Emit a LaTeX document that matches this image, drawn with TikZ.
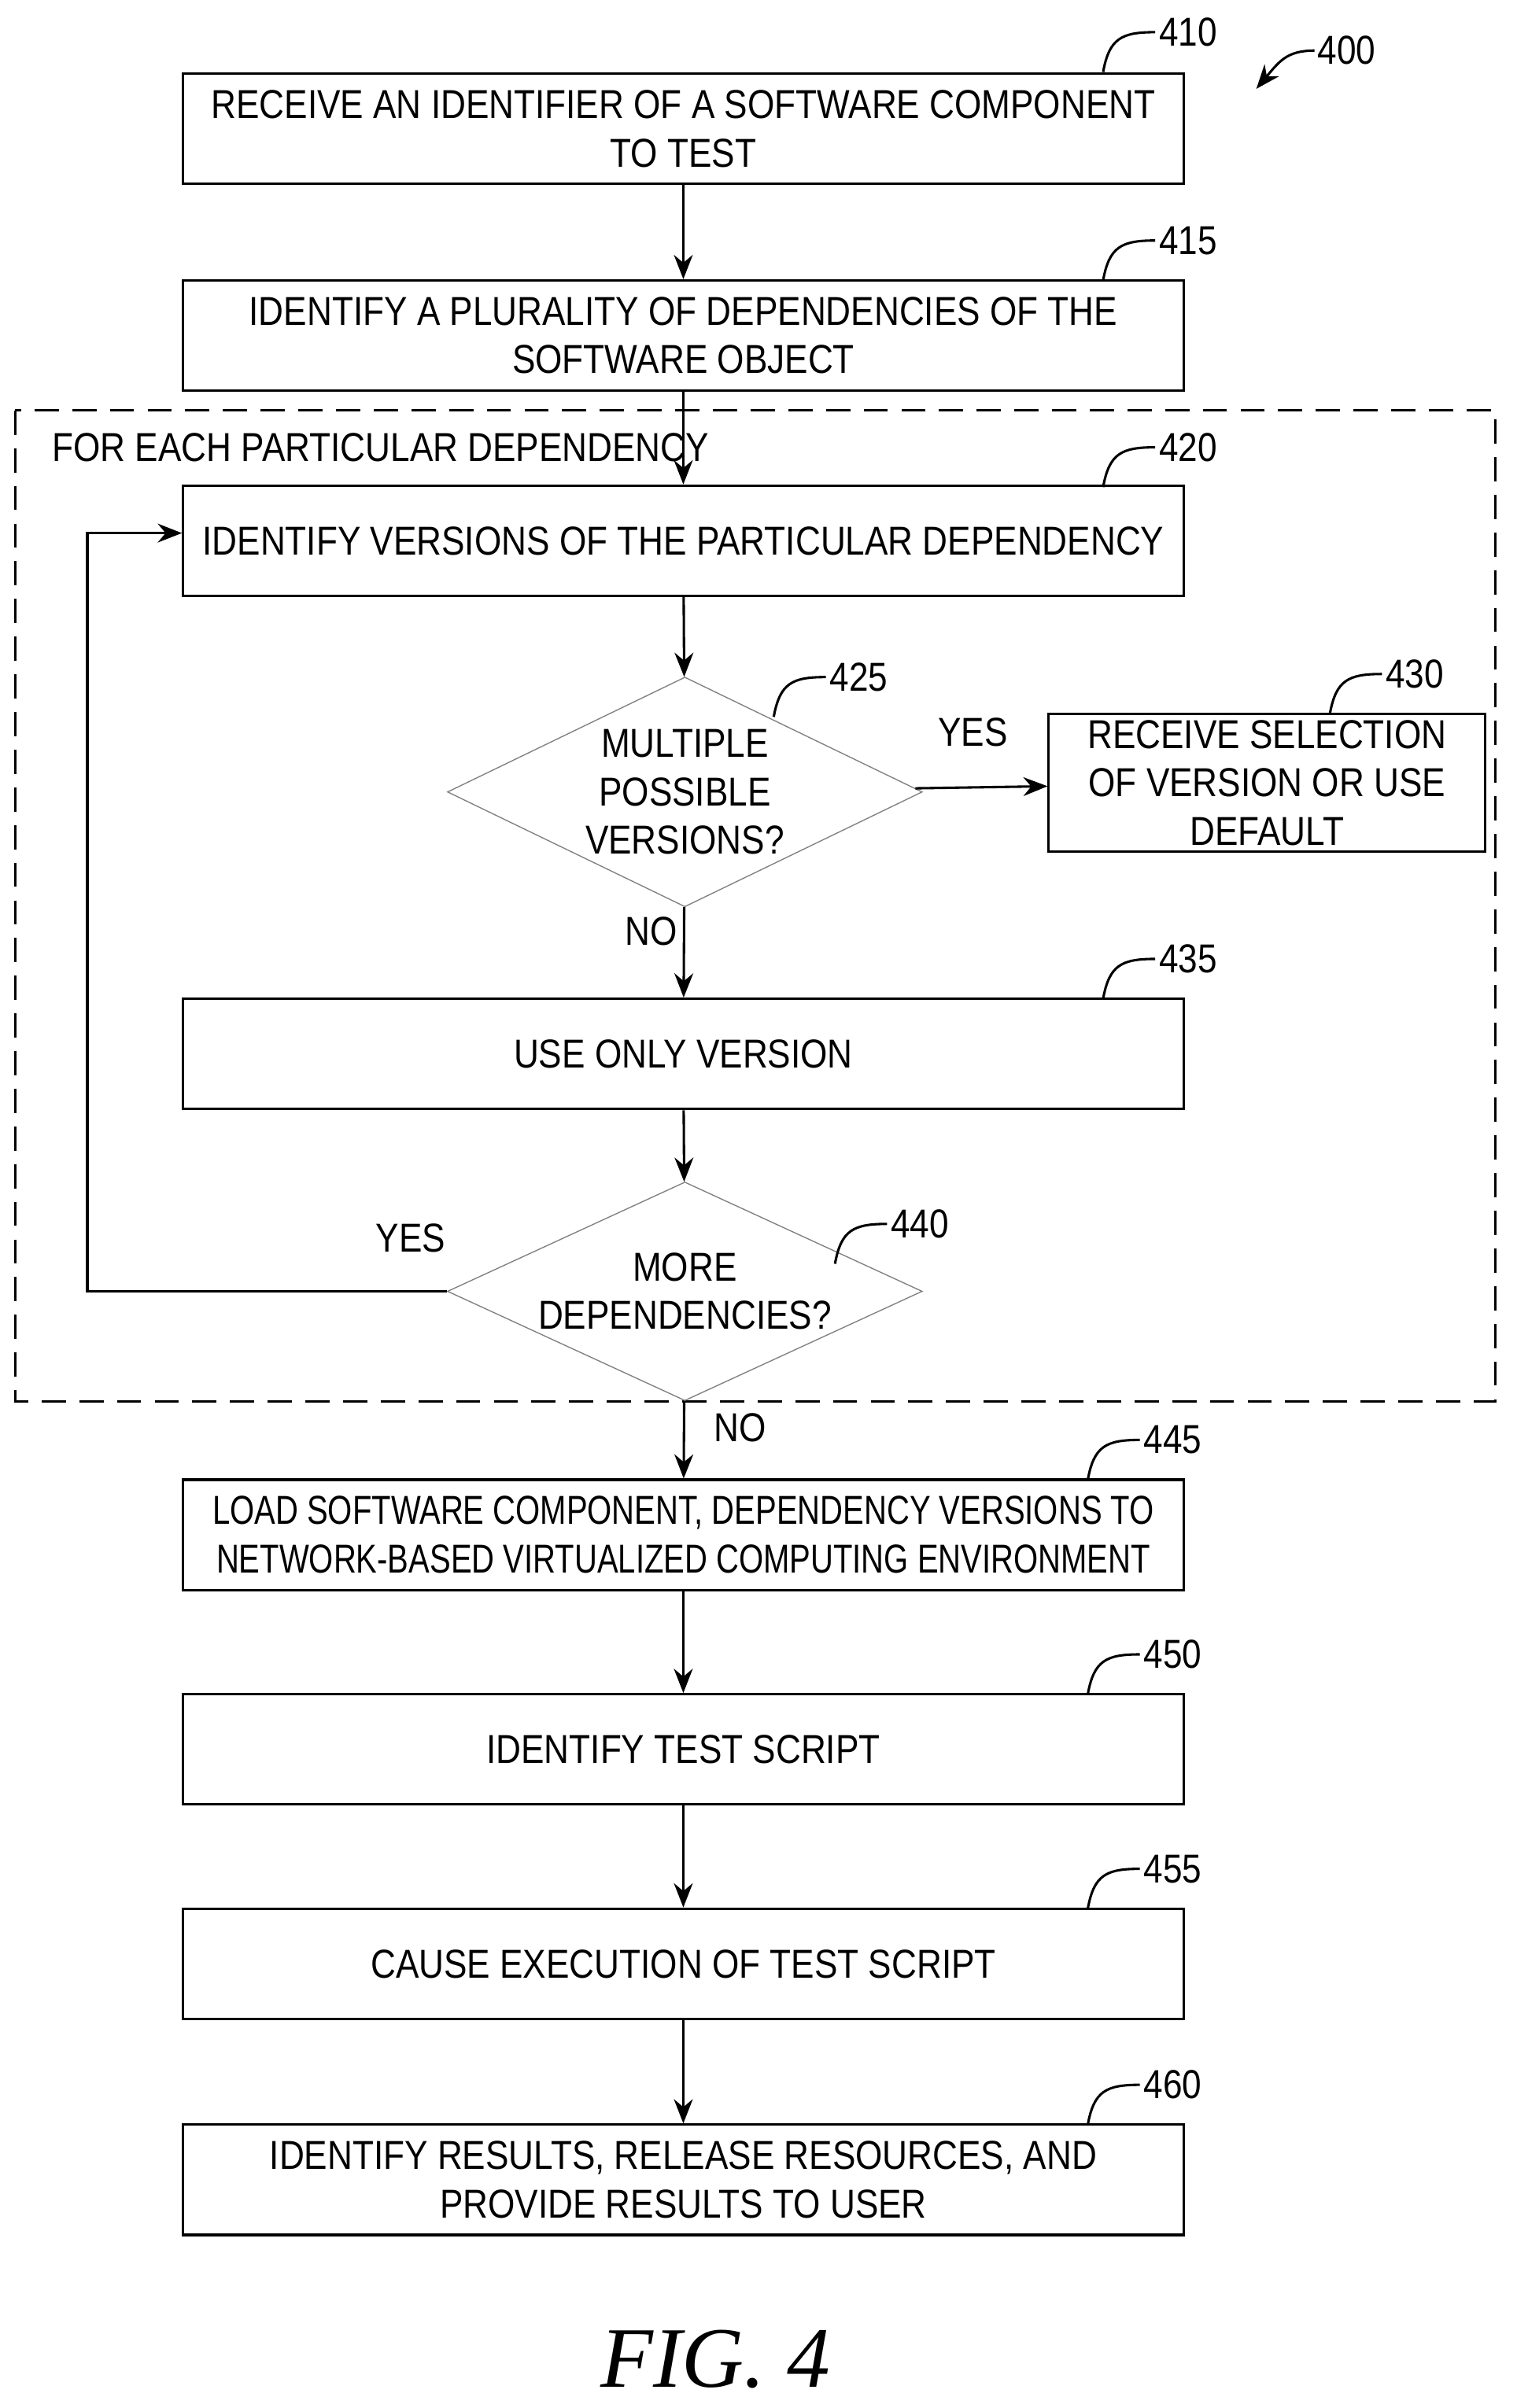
\documentclass[tikz,border=0pt]{standalone}
\usepackage{fontspec}
\setmainfont{Liberation Sans}[FakeStretch=0.86]
\newfontfamily\narrowfont{Liberation Sans}[FakeStretch=0.78]
\usetikzlibrary{shapes.geometric,arrows.meta}
\begin{document}
\begin{tikzpicture}[x=0.02cm,y=-0.02cm,
 box/.style={draw,line width=0.9pt,minimum width=13.06cm,minimum height=1.44cm,align=center,font=\fontsize{15}{18}\selectfont,inner sep=0pt},
 dia/.style={draw=gray,diamond,aspect=2.07,minimum width=6.2cm,align=center,font=\fontsize{15}{18}\selectfont,inner sep=0pt},
 arr/.style={line width=0.9pt,-{Stealth[length=9pt,width=7pt]}},
 lead/.style={line width=0.9pt},
 num/.style={anchor=west,inner sep=1pt,font=\fontsize{15}{17}\selectfont},
 lab/.style={font=\fontsize{15}{18}\selectfont}]
\useasboundingbox (0,0) rectangle (990,1572);
\node[box] (b410) at (446,84) {RECEIVE AN IDENTIFIER OF A SOFTWARE COMPONENT\\TO TEST};
\node[box] (b415) at (446,219) {IDENTIFY A PLURALITY OF DEPENDENCIES OF THE\\SOFTWARE OBJECT};
\draw[dashed,line width=0.9pt,dash pattern=on 9pt off 5pt] (10,268) rectangle (976,915);
\node[lab,anchor=west] (fe) at (28,292) {FOR EACH PARTICULAR DEPENDENCY};
\node[box] (b420) at (446,353) {IDENTIFY VERSIONS OF THE PARTICULAR DEPENDENCY};
\node[dia,minimum height=3.0cm] (d425) at (447,517) {MULTIPLE\\POSSIBLE\\VERSIONS?};
\node[box,minimum width=5.7cm,minimum height=1.8cm] (b430) at (827,511) {RECEIVE SELECTION\\OF VERSION OR USE\\DEFAULT};
\node[box] (b435) at (446,688) {USE ONLY VERSION};
\node[dia,minimum height=2.4cm] (d440) at (447,843) {MORE\\DEPENDENCIES?};
\node[box,font=\narrowfont\fontsize{15}{18}\selectfont] (b445) at (446,1002) {LOAD SOFTWARE COMPONENT, DEPENDENCY VERSIONS TO\\NETWORK-BASED VIRTUALIZED COMPUTING ENVIRONMENT};
\node[box] (b450) at (446,1142) {IDENTIFY TEST SCRIPT};
\node[box] (b455) at (446,1282) {CAUSE EXECUTION OF TEST SCRIPT};
\node[box] (b460) at (446,1423) {IDENTIFY RESULTS, RELEASE RESOURCES, AND\\PROVIDE RESULTS TO USER};
\node[lab] (yes1) at (635,478) {YES};
\node[lab] (no1) at (425,608) {NO};
\node[lab] (yes2) at (268,808) {YES};
\node[lab] (no2) at (483,932) {NO};
\draw[arr] (b410) -- (b415);
\draw[arr] (b415) -- (b420);
\draw[arr] (b420) -- (d425);
\draw[arr] (d425) -- (b430);
\draw[arr] (d425) -- (b435);
\draw[arr] (b435) -- (d440);
\draw[arr] (d440) -- (b445);
\draw[arr] (b445) -- (b450);
\draw[arr] (b450) -- (b455);
\draw[arr] (b455) -- (b460);
\coordinate (lp1) at (57,843);
\coordinate (lp2) at (57,348);
\draw[arr] (d440.west) -- (lp1) -- (lp2) -- (b420.west |- lp2);
\foreach \x/\y/\t in {720/47/410,720/183/415,720/318/420,505/468/425,868/466/430,720/652/435,545/825/440,710/966/445,710/1106/450,710/1246/455,710/1387/460}{
  \draw[lead] (\x,\y) .. controls +(4,-22) and +(-22,0) .. ++(34,-26) node[num] {\t};
}
\node[num] (r400) at (858,33) {400};
\draw[arr] (r400.west) .. controls (840,33) and (835,40) .. (820,58);
\node[font=\fontspec{Liberation Serif}\itshape\fontsize{32}{36}\selectfont] (fig) at (467,1540) {FIG. 4};
\end{tikzpicture}
\end{document}
